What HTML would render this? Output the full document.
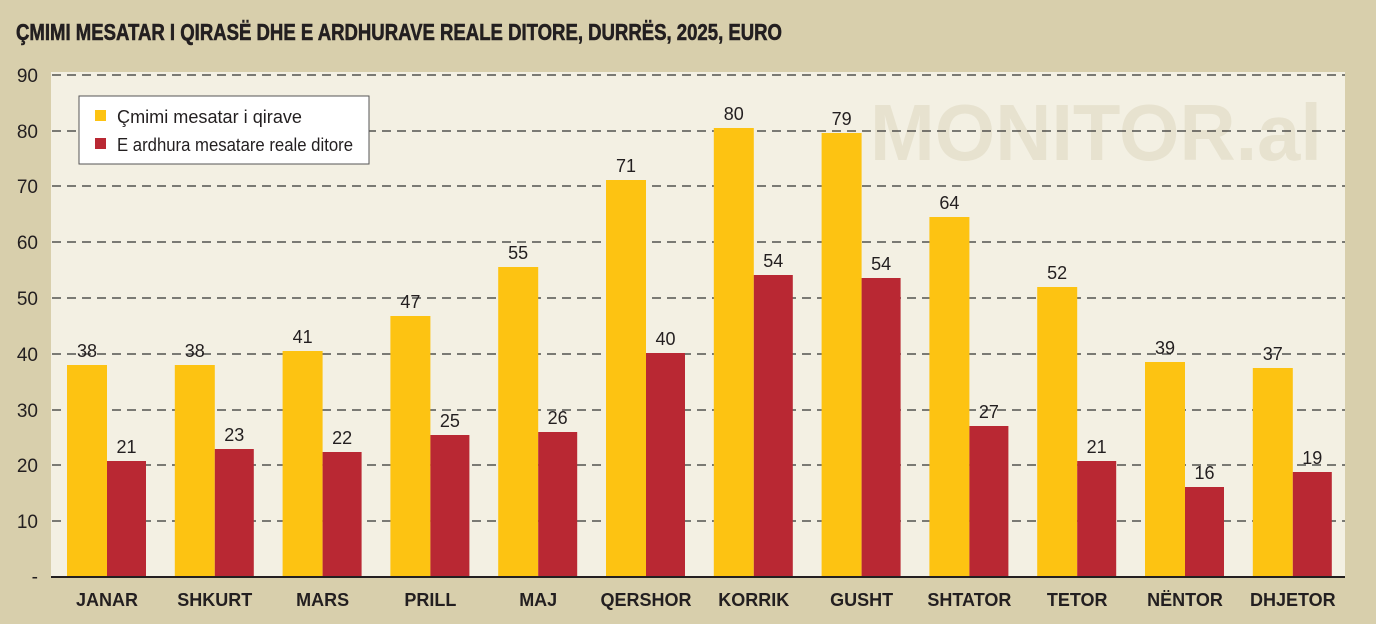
<!DOCTYPE html>
<html><head><meta charset="utf-8"><style>
html,body{margin:0;padding:0;background:#d8cfac;}
svg{display:block;}
text{font-family:"Liberation Sans",sans-serif;}
</style></head><body>
<svg width="1376" height="624" viewBox="0 0 1376 624" xmlns="http://www.w3.org/2000/svg">
<rect width="1376" height="624" fill="#d8cfac"/>
<text x="16" y="40" font-size="23" font-weight="bold" fill="#231f20" textLength="766" lengthAdjust="spacingAndGlyphs" stroke="#231f20" stroke-width="0.6">ÇMIMI MESATAR I QIRASË DHE E ARDHURAVE REALE DITORE, DURRËS, 2025, EURO</text>
<rect x="51" y="72" width="1294" height="505" fill="#f3f0e3"/>
<text x="870" y="160" font-size="80" font-weight="bold" fill="#e7e2cf" textLength="452" lengthAdjust="spacingAndGlyphs">MONITOR.al</text>
<g stroke="#333" stroke-width="1.2" stroke-dasharray="9,6">
<line x1="52" y1="75" x2="1345" y2="75"/>
<line x1="52" y1="131" x2="1345" y2="131"/>
<line x1="52" y1="186" x2="1345" y2="186"/>
<line x1="52" y1="242" x2="1345" y2="242"/>
<line x1="52" y1="298" x2="1345" y2="298"/>
<line x1="52" y1="354" x2="1345" y2="354"/>
<line x1="52" y1="410" x2="1345" y2="410"/>
<line x1="52" y1="465" x2="1345" y2="465"/>
<line x1="52" y1="521" x2="1345" y2="521"/>
</g>
<g font-size="19" fill="#231f20" text-anchor="end">
<text x="38" y="82">90</text><text x="38" y="138">80</text><text x="38" y="193">70</text>
<text x="38" y="249">60</text><text x="38" y="305">50</text><text x="38" y="361">40</text>
<text x="38" y="417">30</text><text x="38" y="472">20</text><text x="38" y="528">10</text>
<text x="38" y="583">-</text>
</g>
<g fill="#fdc312">
<rect x="67" y="365" width="40" height="212"/>
<rect x="174.8" y="365" width="40" height="212"/>
<rect x="282.6" y="351" width="40" height="226"/>
<rect x="390.4" y="316" width="40" height="261"/>
<rect x="498.2" y="267" width="40" height="310"/>
<rect x="606" y="180" width="40" height="397"/>
<rect x="713.8" y="128" width="40" height="449"/>
<rect x="821.6" y="133" width="40" height="444"/>
<rect x="929.4" y="217" width="40" height="360"/>
<rect x="1037.2" y="287" width="40" height="290"/>
<rect x="1145" y="362" width="40" height="215"/>
<rect x="1252.8" y="368" width="40" height="209"/>
</g>
<g fill="#b92833">
<rect x="107" y="461" width="39" height="116"/>
<rect x="214.8" y="449" width="39" height="128"/>
<rect x="322.6" y="452" width="39" height="125"/>
<rect x="430.4" y="435" width="39" height="142"/>
<rect x="538.2" y="432" width="39" height="145"/>
<rect x="646" y="353" width="39" height="224"/>
<rect x="753.8" y="275" width="39" height="302"/>
<rect x="861.6" y="278" width="39" height="299"/>
<rect x="969.4" y="426" width="39" height="151"/>
<rect x="1077.2" y="461" width="39" height="116"/>
<rect x="1185" y="487" width="39" height="90"/>
<rect x="1292.8" y="472" width="39" height="105"/>
</g>
<g font-size="18" fill="#231f20" text-anchor="middle">
<text x="87" y="357">38</text><text x="126.5" y="453">21</text>
<text x="194.8" y="357">38</text><text x="234.3" y="441">23</text>
<text x="302.6" y="343">41</text><text x="342.1" y="444">22</text>
<text x="410.4" y="308">47</text><text x="449.9" y="427">25</text>
<text x="518.2" y="259">55</text><text x="557.7" y="424">26</text>
<text x="626" y="172">71</text><text x="665.5" y="345">40</text>
<text x="733.8" y="120">80</text><text x="773.3" y="267">54</text>
<text x="841.6" y="125">79</text><text x="881.1" y="270">54</text>
<text x="949.4" y="209">64</text><text x="988.9" y="418">27</text>
<text x="1057.2" y="279">52</text><text x="1096.7" y="453">21</text>
<text x="1165" y="354">39</text><text x="1204.5" y="479">16</text>
<text x="1272.8" y="360">37</text><text x="1312.3" y="464">19</text>
</g>
<g font-size="18" fill="#231f20" text-anchor="middle" font-weight="bold">
<text x="107" y="606">JANAR</text>
<text x="214.8" y="606">SHKURT</text>
<text x="322.6" y="606">MARS</text>
<text x="430.4" y="606">PRILL</text>
<text x="538.2" y="606">MAJ</text>
<text x="646" y="606">QERSHOR</text>
<text x="753.8" y="606">KORRIK</text>
<text x="861.6" y="606">GUSHT</text>
<text x="969.4" y="606">SHTATOR</text>
<text x="1077.2" y="606">TETOR</text>
<text x="1185" y="606">NËNTOR</text>
<text x="1292.8" y="606">DHJETOR</text>
</g>
<line x1="51" y1="577" x2="1345" y2="577" stroke="#231f20" stroke-width="2"/>
<rect x="79" y="96" width="290" height="68" fill="#fff" stroke="#555" stroke-width="1"/>
<rect x="95" y="110" width="11" height="11" fill="#fdc312"/>
<rect x="95" y="138" width="11" height="11" fill="#b92833"/>
<text x="117" y="123" font-size="18" fill="#231f20" textLength="185" lengthAdjust="spacingAndGlyphs">Çmimi mesatar i qirave</text>
<text x="117" y="151" font-size="18" fill="#231f20" textLength="236" lengthAdjust="spacingAndGlyphs">E ardhura mesatare reale ditore</text>
</svg>
</body></html>
